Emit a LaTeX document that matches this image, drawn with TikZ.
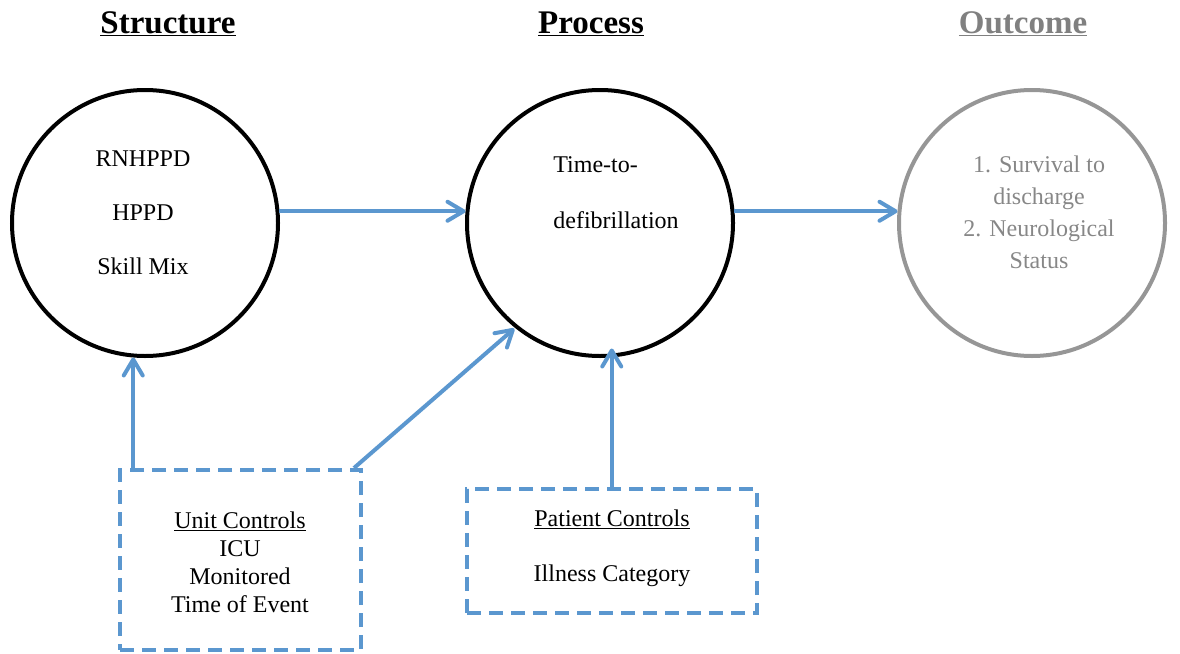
\documentclass[tikz,border=0pt]{standalone}
\usepackage{fontspec}
\setmainfont{Liberation Serif}
\usetikzlibrary{arrows.meta,calc}
\definecolor{arrowblue}{RGB}{91,151,207}
\definecolor{outgray}{RGB}{150,150,150}
\definecolor{outtext}{RGB}{135,135,135}
\definecolor{headgray}{RGB}{128,128,128}
\begin{document}
\begin{tikzpicture}[x=1pt,y=-1pt,
  circ/.style={circle, draw, line width=4pt, minimum size=266pt, inner sep=0pt},
  conn/.style={draw=arrowblue, line width=4pt, -{Straight Barb[length=16pt,width=19pt,round]}},
  ctrlbox/.style={draw=arrowblue, line width=4pt, dash pattern=on 14pt off 8pt, inner sep=0pt},
  body/.style={font=\fontsize{24}{28}\selectfont},
  head/.style={font=\fontsize{33}{38}\selectfont\bfseries, anchor=base}]
\useasboundingbox (0,0) rectangle (1180,653);
% headers
\node[head] (hs) at (168,33) {\underline{Structure}};
\node[head] (hp) at (591,33) {\underline{Process}};
\node[head, text=headgray] (ho) at (1023,33) {\underline{Outcome}};
% circles
\node[circ] (s) at (145,223) {};
\node[circ] (p) at (600,223) {};
\node[circ, draw=outgray] (o) at (1032,223) {};
% circle texts
\node[body, align=center] (stext) at (143,213) {RNHPPD\\[26pt]HPPD\\[26pt]Skill Mix};
\node[body, align=left] (ptext) at (616,193) {Time-to-\\[28pt]defibrillation};
\node[font=\fontsize{24}{32}\selectfont, align=center, text=outtext] (otext) at (1039,212) {1. Survival to\\discharge\\2. Neurological\\Status};
% control boxes
\node[ctrlbox, minimum width=241pt, minimum height=180pt] (u) at (240.5,560) {};
\node[body, align=center] (utext) at (240,562) {\underline{Unit Controls}\\ICU\\Monitored\\Time of Event};
\node[ctrlbox, minimum width=290pt, minimum height=124pt] (pc) at (612,551) {};
\node[body, align=center] (pctext) at (612,548) {\underline{Patient Controls}\\[27pt]Illness Category};
% connectors
\draw[conn] (s.5) -- (p.175);
\draw[conn] (p.5) -- (o.175);
\draw[conn] (s.265 |- u.north) -- (s.265);
\draw[conn, shorten >=1pt] ($(u.north east)+(-9,0)$) -- (p.231);
\draw[conn, shorten >=-9pt] (p.275 |- pc.north) -- (p.275);
\end{tikzpicture}
\end{document}
